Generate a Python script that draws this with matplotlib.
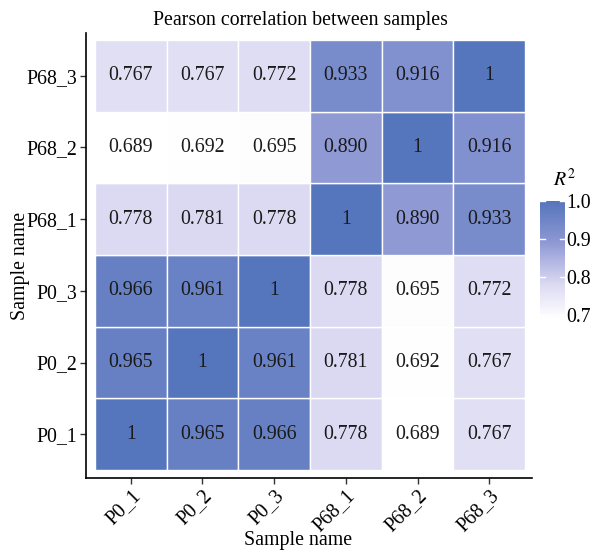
import matplotlib
matplotlib.use("Agg")
import matplotlib.pyplot as plt
import numpy as np
from matplotlib.colors import LinearSegmentedColormap, Normalize
import matplotlib.colorbar as mcolorbar

samples = ["P0_1", "P0_2", "P0_3", "P68_1", "P68_2", "P68_3"]
# rows: y sample (bottom to top), columns: x sample
corr = [
    [1.000, 0.965, 0.966, 0.778, 0.689, 0.767],  # P0_1
    [0.965, 1.000, 0.961, 0.781, 0.692, 0.767],  # P0_2
    [0.966, 0.961, 1.000, 0.778, 0.695, 0.772],  # P0_3
    [0.778, 0.781, 0.778, 1.000, 0.890, 0.933],  # P68_1
    [0.689, 0.692, 0.695, 0.890, 1.000, 0.916],  # P68_2
    [0.767, 0.767, 0.772, 0.933, 0.916, 1.000],  # P68_3
]
labels = [
    ["1", "0.965", "0.966", "0.778", "0.689", "0.767"],
    ["0.965", "1", "0.961", "0.781", "0.692", "0.767"],
    ["0.966", "0.961", "1", "0.778", "0.695", "0.772"],
    ["0.778", "0.781", "0.778", "1", "0.890", "0.933"],
    ["0.689", "0.692", "0.695", "0.890", "1", "0.916"],
    ["0.767", "0.767", "0.772", "0.933", "0.916", "1"],
]
cbar_ticks = [0.7, 0.8, 0.9, 1.0]

plt.rcParams['font.family'] = ['Liberation Serif', 'DejaVu Serif']
plt.rcParams['mathtext.fontset'] = 'stix'

vmin, vmax = 0.689, 1.0
cmap = LinearSegmentedColormap.from_list(
    "wb", [(0.0, "#FFFFFF"), (0.29, "#DCDAF2"), (0.65, "#8E98D4"), (1.0, "#5575BC")])
norm = Normalize(vmin=vmin, vmax=vmax)

W, H = 594, 552
fig = plt.figure(figsize=(W / 100, H / 100), dpi=100)
ax = fig.add_axes([86 / W, (H - 478) / H, (532 - 86) / W, (478 - 33) / H])

FS = 14.3
data = np.array(corr)
n = len(samples)
for i in range(n):
    for j in range(n):
        ax.add_patch(plt.Rectangle((j + 0.5, i + 0.5), 1, 1,
                                   facecolor=cmap(norm(data[i, j])),
                                   edgecolor="white", linewidth=1.0))
        ax.text(j + 1, i + 1, labels[i][j], ha="center", va="center",
                fontsize=FS, color="#1a1a1a")

ax.set_xlim(0.5 - 9 / 71.7, 6.5 + 7 / 71.7)
ax.set_ylim(0.5 - 8 / 71.7, 6.5 + 7 / 71.7)
ax.set_xticks(range(1, n + 1))
ax.set_xticklabels(samples, rotation=45, ha="right", rotation_mode="anchor", fontsize=FS)
ax.set_yticks(range(1, n + 1))
ax.set_yticklabels(samples, fontsize=FS)
ax.tick_params(length=4, width=1, color="#333333", labelcolor="black", pad=2)
for s in ["top", "right"]:
    ax.spines[s].set_visible(False)
for s in ["left", "bottom"]:
    ax.spines[s].set_linewidth(1.2)

fig.text(298 / W, 1 - 541 / H, "Sample name", fontsize=FS, ha="center", va="center")
fig.text(21 / W, 1 - 266 / H, "Sample name", fontsize=FS, ha="center", va="center",
         rotation=90)
fig.text(300 / W, 1 - 20 / H, "Pearson correlation between samples", fontsize=FS,
         ha="center", va="center")

cax = fig.add_axes([540 / W, (H - 319) / H, 25 / W, (319 - 201) / H])
cb = mcolorbar.ColorbarBase(cax, cmap=cmap, norm=norm, orientation="vertical")
cb.outline.set_visible(False)
cb.set_ticks(cbar_ticks)
cb.set_ticklabels([f"{t:.1f}" for t in cbar_ticks])
cax.tick_params(length=0, labelsize=FS, pad=1)
for t in cbar_ticks:
    cax.plot([0, 0.2], [t, t], color="white", lw=1, transform=cax.get_yaxis_transform())
    cax.plot([0.8, 1.0], [t, t], color="white", lw=1, transform=cax.get_yaxis_transform())
fig.text(553 / W, 1 - 180 / H, "$R^2$", fontsize=FS, ha="left", va="center")

fig.savefig("out.png", dpi=100)
